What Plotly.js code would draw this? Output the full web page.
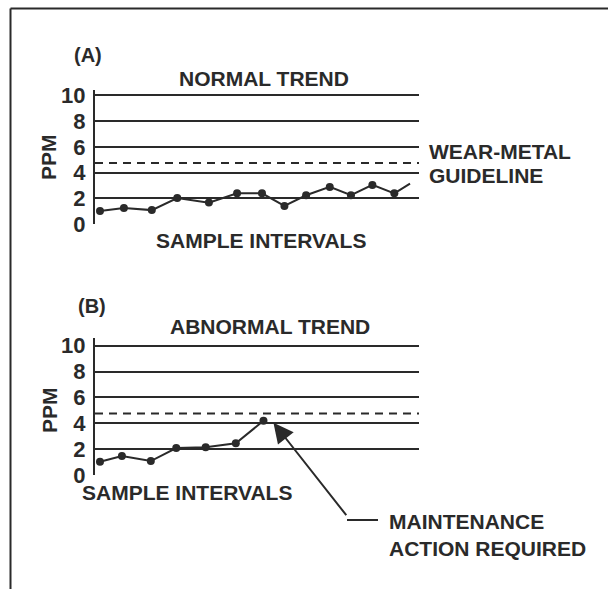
<!DOCTYPE html>
<html>
<head>
<meta charset="utf-8">
<script src="https://cdn.plot.ly/plotly-3.0.1.min.js"></script>
<style>
html,body{margin:0;padding:0;background:#fff;}
#chart{width:608px;height:589px;}
</style>
</head>
<body>
<div id="chart"></div>
<script>
// ---- data ----
const samplesA = [0.2, 1.16, 2.28, 3.3, 4.57, 5.7, 6.7, 7.6, 8.47, 9.42, 10.27, 11.13, 12.01, 12.64];
const ppmA     = [1.03, 1.26, 1.1, 2.04, 1.68, 2.4, 2.4, 1.42, 2.25, 2.9, 2.25, 3.05, 2.4, 3.15];
const samplesB = [0.2, 1.08, 2.24, 3.26, 4.44, 5.65, 6.76];
const ppmB     = [1.03, 1.47, 1.08, 2.09, 2.14, 2.45, 4.2];
const guideline = 4.75;
const yTicks = [0, 2, 4, 6, 8, 10];
const yTickText = ['0', '2', '4', '6', '8', '10'];

const W = 608, H = 589;
const px = v => v / W;
const py = v => 1 - v / H;
const FONT = 'Liberation Sans, Arial, sans-serif';
const INK = '#2a2a2a';

const markerSizesA = samplesA.map((_, i) => i < samplesA.length - 1 ? 8 : 0);

const traces = [
  {x: samplesA, y: ppmA, xaxis: 'x', yaxis: 'y', mode: 'lines+markers',
   line: {color: INK, width: 2}, marker: {color: INK, size: markerSizesA, opacity: 1, line: {width: 0}},
   hoverinfo: 'none', cliponaxis: false},
  {x: samplesB, y: ppmB, xaxis: 'x2', yaxis: 'y2', mode: 'lines+markers',
   line: {color: INK, width: 2}, marker: {color: INK, size: 8, opacity: 1, line: {width: 0}},
   hoverinfo: 'none', cliponaxis: false}
];

const yBase = {
  tickvals: yTicks, ticktext: yTickText,
  showgrid: true, gridcolor: INK, gridwidth: 2,
  zeroline: false, showline: true, linecolor: INK, linewidth: 2,
  ticks: '', ticklabelstandoff: 3,
  tickfont: {family: FONT, size: 22, color: INK, weight: 'bold'},
  fixedrange: true
};
const xBase = {
  range: [0, 13], showgrid: false, zeroline: false, showline: false,
  showticklabels: false, ticks: '', fixedrange: true,
  domain: [px(95), px(419)]
};

const layout = {
  width: W, height: H,
  margin: {l: 0, r: 0, t: 0, b: 0},
  paper_bgcolor: '#fff', plot_bgcolor: 'rgba(0,0,0,0)',
  showlegend: false,
  xaxis: Object.assign({}, xBase, {anchor: 'y'}),
  yaxis: Object.assign({}, yBase, {anchor: 'x', range: [0, 10.4], domain: [py(224.3), py(90.1)]}),
  xaxis2: Object.assign({}, xBase, {anchor: 'y2'}),
  yaxis2: Object.assign({}, yBase, {anchor: 'x2', range: [0, 10.6], domain: [py(475), py(338)]}),
  shapes: [
    // outer frame (top and left edges)
    {type: 'line', xref: 'paper', yref: 'paper', x0: px(10.5), x1: 1, y0: py(8.5), y1: py(8.5), line: {color: INK, width: 2}},
    {type: 'line', xref: 'paper', yref: 'paper', x0: px(10.5), x1: px(10.5), y0: py(8.5), y1: 0, line: {color: INK, width: 2}},
    // wear-metal guideline
    {type: 'line', xref: 'x', yref: 'y', x0: 0, x1: 13, y0: guideline, y1: guideline, line: {color: INK, width: 2, dash: '8px,6px'}},
    {type: 'line', xref: 'x2', yref: 'y2', x0: 0, x1: 13, y0: guideline, y1: guideline, line: {color: INK, width: 2, dash: '8px,6px'}},
    // elbow of the callout
    {type: 'line', xref: 'paper', yref: 'paper', x0: px(347), x1: px(378), y0: py(520), y1: py(520), line: {color: INK, width: 2}}
  ],
  annotations: []
};

function txt(text, x, y, opts) {
  return Object.assign({
    text: text, xref: 'paper', yref: 'paper', x: px(x), y: py(y),
    showarrow: false, xanchor: 'center', yanchor: 'middle',
    font: {family: FONT, size: 21, color: INK, weight: 'bold'}
  }, opts || {});
}

layout.annotations.push(
  txt('(A)', 88, 55, {font: {family: FONT, size: 20, color: INK, weight: 'bold'}}),
  txt('NORMAL TREND', 264, 78),
  txt('PPM', 49, 157, {textangle: -90}),
  txt('WEAR-METAL', 427, 151, {xanchor: 'left'}),
  txt('GUIDELINE', 427, 176, {xanchor: 'left'}),
  txt('SAMPLE INTERVALS', 261, 240),
  txt('(B)', 92, 306, {font: {family: FONT, size: 20, color: INK, weight: 'bold'}}),
  txt('ABNORMAL TREND', 270, 326),
  txt('PPM', 49, 410, {textangle: -90}),
  txt('SAMPLE INTERVALS', 187, 492),
  txt('MAINTENANCE', 387, 521, {xanchor: 'left'}),
  txt('ACTION REQUIRED', 387, 548, {xanchor: 'left'}),
  // callout arrow pointing to the last abnormal sample
  {text: '', xref: 'x2', yref: 'y2', x: samplesB[samplesB.length - 1] + 0.4, y: ppmB[ppmB.length - 1] - 0.15,
   axref: 'pixel', ayref: 'pixel', ax: 74, ay: 94,
   showarrow: true, arrowhead: 2, arrowsize: 2, arrowwidth: 2, arrowcolor: INK, standoff: 0}
);

Plotly.newPlot('chart', traces, layout, {staticPlot: true, displayModeBar: false});
</script>
</body>
</html>
